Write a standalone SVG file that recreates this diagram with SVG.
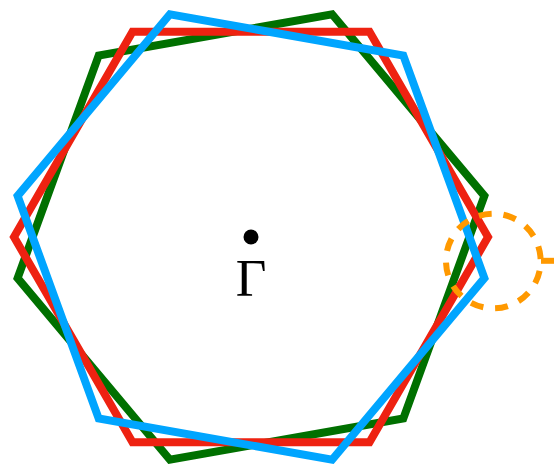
<svg xmlns="http://www.w3.org/2000/svg" width="554" height="465" viewBox="0 0 554 465">
  <style>
    .hex { fill: none; stroke-width: 8; stroke-linejoin: miter; stroke-miterlimit: 10; }
    .green { stroke: #007000; }
    .red { stroke: #EE2211; }
    .blue { stroke: #00A5FF; }
    .ring { fill: none; stroke: #FF9900; stroke-width: 6; stroke-dasharray: 13 11.77; }
    .tick { stroke: #FF9900; stroke-width: 6; }
    .label { font-family: "Liberation Serif", "Times New Roman", serif; font-size: 53px; fill: #000; }
  </style>
  <rect width="554" height="465" fill="#ffffff"/>
  <g id="hex-green">
    <polygon class="hex green" points="484.4,195.85 403.3,418.5 169.9,459.7 17.6,278.15 98.7,55.5 332.1,14.3"/>
  </g>
  <g id="hex-red">
    <polygon class="hex red" points="488,237 369.5,442.25 132.5,442.25 14,237 132.5,31.75 369.5,31.75"/>
  </g>
  <g id="hex-blue">
    <polygon class="hex blue" points="484.4,278.15 332.1,459.7 98.7,418.5 17.6,195.85 169.9,14.3 403.3,55.5"/>
  </g>
  <g id="highlight">
    <path class="ring" d="M 538.3 246.4 A 47.3 47.3 0 1 1 448.3 275.6 A 47.3 47.3 0 1 1 538.3 246.4"/>
    <line class="tick" x1="541" y1="260.8" x2="556" y2="260.8"/>
  </g>
  <g id="gamma">
    <circle cx="251" cy="237" r="7.5" fill="#000"/>
    <text class="label" x="251" y="295.5" text-anchor="middle">Γ</text>
  </g>
</svg>
